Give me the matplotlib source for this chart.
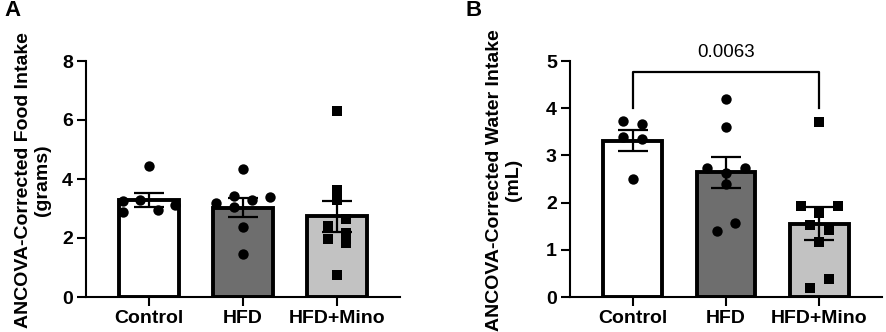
import numpy as np
import matplotlib
matplotlib.use("Agg")
import matplotlib.pyplot as plt

plt.rcParams["font.family"] = ["Liberation Sans", "DejaVu Sans"]
plt.rcParams["font.weight"] = "bold"

GROUPS = ["Control", "HFD", "HFD+Mino"]
BAR_COLORS = ["#ffffff", "#6e6e6e", "#c2c2c2"]
MARKERS = ["o", "o", "s"]

# panel A: food intake (grams)
food_mean = [3.29, 3.03, 2.74]
food_sem = [0.24, 0.31, 0.53]
food_pts = [
    [4.43, 3.25, 2.89, 3.28, 2.95, 3.11],
    [4.33, 3.20, 3.43, 3.28, 3.40, 3.04, 2.37, 1.45],
    [6.31, 3.62, 3.29, 2.64, 2.42, 1.96, 2.16, 1.82, 0.75],
]
food_jit = [
    [0, -0.28, -0.28, -0.1, 0.1, 0.28],
    [0, -0.29, -0.1, 0.1, 0.29, -0.1, 0, 0],
    [0, 0, 0, 0.1, -0.1, -0.1, 0.1, 0.1, 0],
]

# panel B: water intake (mL)
water_mean = [3.31, 2.64, 1.55]
water_sem = [0.22, 0.33, 0.35]
water_pts = [
    [3.73, 3.67, 3.40, 3.34, 2.49],
    [4.19, 3.60, 2.74, 2.74, 2.62, 2.40, 1.40, 1.57],
    [3.71, 1.93, 1.93, 1.79, 1.53, 1.41, 1.17, 0.38, 0.20],
]
water_jit = [
    [-0.1, 0.1, -0.1, 0.1, 0],
    [0, 0, -0.2, 0.2, 0, 0, -0.1, 0.1],
    [0, -0.2, 0.2, 0, -0.1, 0.1, 0, 0.1, -0.1],
]
p_value = "0.0063"

W, H = 886, 332


def draw_panel(ax, means, sems, pts, jit, ymax, yticks):
    x = np.arange(len(GROUPS))
    ax.bar(x, means, width=0.63, color=BAR_COLORS, edgecolor="black",
           linewidth=2.8, zorder=2)
    ax.errorbar(x, means, yerr=sems, fmt="none", ecolor="black",
                elinewidth=1.6, capsize=11, capthick=1.6, zorder=3)
    for i in range(len(GROUPS)):
        xs = x[i] + np.array(jit[i])
        ax.scatter(xs, pts[i], marker=MARKERS[i], s=56, color="black",
                   linewidths=0, zorder=4, clip_on=False)
    ax.set_xlim(-0.67, 2.67)
    ax.set_ylim(0, ymax)
    ax.set_yticks(yticks)
    ax.set_xticks(x)
    ax.set_xticklabels(GROUPS, fontsize=14, fontweight="bold")
    for lab in ax.get_yticklabels():
        lab.set_fontsize(14)
        lab.set_fontweight("bold")
    for s in ["top", "right"]:
        ax.spines[s].set_visible(False)
    for s in ["left", "bottom"]:
        ax.spines[s].set_linewidth(1.5)
    ax.tick_params(width=1.5, length=6.5, pad=3)


fig = plt.figure(figsize=(W / 100, H / 100), dpi=100)
axA = fig.add_axes([86 / W, 35 / H, 314 / W, 236 / H])
axB = fig.add_axes([570 / W, 35 / H, 312 / W, 236 / H])

draw_panel(axA, food_mean, food_sem, food_pts, food_jit, 8, [0, 2, 4, 6, 8])
draw_panel(axB, water_mean, water_sem, water_pts, water_jit, 5, [0, 1, 2, 3, 4, 5])

# significance bracket
axB.plot([0, 0, 2, 2], [4.01, 4.77, 4.77, 4.01], color="black", lw=1.6,
         clip_on=False, zorder=5)
axB.text(1, 5.19, p_value, ha="center", va="center", fontsize=13.5,
         fontweight="normal", clip_on=False)

fig.text(33 / W, 1 - 180 / H, "ANCOVA-Corrected Food Intake\n(grams)",
         rotation=90, ha="center", va="center", fontsize=14,
         fontweight="bold", multialignment="center")
fig.text(504 / W, 1 - 180 / H, "ANCOVA-Corrected Water Intake\n(mL)",
         rotation=90, ha="center", va="center", fontsize=14,
         fontweight="bold", multialignment="center")

fig.text(4 / W, 1 - 10 / H, "A", ha="left", va="center", fontsize=16,
         fontweight="bold")
fig.text(466 / W, 1 - 10 / H, "B", ha="left", va="center", fontsize=16,
         fontweight="bold")

fig.savefig("out.png", dpi=100)
